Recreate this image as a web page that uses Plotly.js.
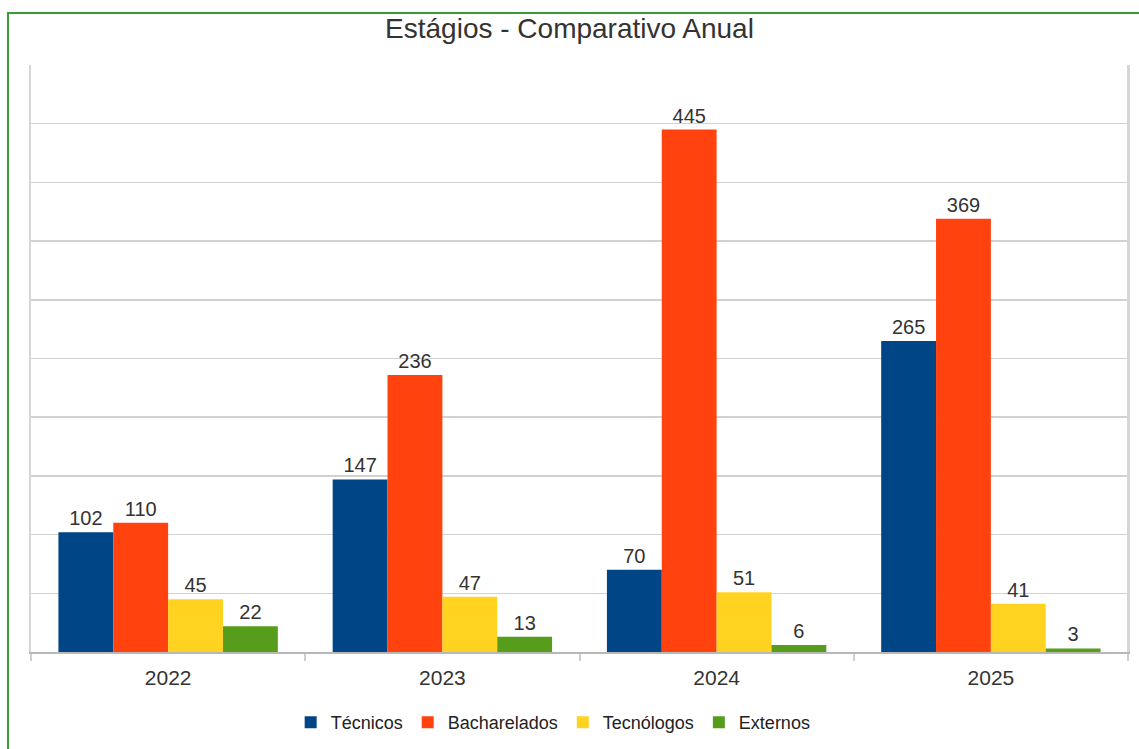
<!DOCTYPE html>
<html>
<head>
<meta charset="utf-8">
<script src="https://cdn.plot.ly/plotly-3.0.1.min.js"></script>
<style>
  html, body { margin: 0; padding: 0; width: 1139px; height: 749px; overflow: hidden; background: #fff; }
  #chart { position: absolute; left: 0; top: 0; width: 1139px; height: 749px; }
  #frame { position: absolute; left: 7px; top: 12px; width: 1200px; height: 800px; border: 2px solid #3c9b32; pointer-events: none; }
</style>
</head>
<body>
<div id="chart"></div>
<div id="frame"></div>
<script>
const years = ['2022', '2023', '2024', '2025'];
const tecnicos = [102, 147, 70, 265];
const bacharelados = [110, 236, 445, 369];
const tecnologos = [45, 47, 51, 41];
const externos = [22, 13, 6, 3];

const seriesNames = ['Técnicos', 'Bacharelados', 'Tecnólogos', 'Externos'];
const seriesValues = [tecnicos, bacharelados, tecnologos, externos];
const colors = ['#004586', '#ff420e', '#ffd320', '#579d1c'];

const FONT = '"Liberation Sans", Arial, sans-serif';

const data = seriesValues.map((vals, i) => ({
  type: 'bar',
  name: seriesNames[i],
  x: years,
  y: vals,
  text: vals.map(String),
  textposition: 'outside',
  textfont: { family: FONT, size: 20, color: '#333333' },
  cliponaxis: false,
  marker: { color: colors[i], line: { width: 0 } },
  hoverinfo: 'x+y+name'
}));

const layout = {
  width: 1139,
  height: 749,
  margin: { l: 31, r: 11, t: 65, b: 97, pad: 0, autoexpand: false },
  paper_bgcolor: '#ffffff',
  plot_bgcolor: '#ffffff',
  font: { family: FONT, color: '#333333' },
  title: {
    text: 'Estágios - Comparativo Anual',
    font: { family: FONT, size: 28, color: '#333333' },
    x: 0.5, xanchor: 'center',
    y: 1 - 28 / 749, yanchor: 'middle', yref: 'container'
  },
  barmode: 'group',
  bargap: 0.2,
  bargroupgap: 0,
  xaxis: {
    type: 'category',
    automargin: false,
    showgrid: false,
    showline: true,
    linecolor: '#b8b8b8',
    linewidth: 2,
    mirror: false,
    ticks: 'outside',
    tickson: 'boundaries',
    ticklen: 7,
    tickcolor: '#cfcfcf',
    tickwidth: 2,
    ticklabelstandoff: 6,
    tickfont: { family: FONT, size: 21, color: '#333333' },
    zeroline: false
  },
  yaxis: {
    range: [0, 500],
    dtick: 50,
    automargin: false,
    showticklabels: false,
    showgrid: true,
    gridcolor: '#d2d2d2',
    gridwidth: 1.5,
    showline: true,
    linecolor: '#d6d6d6',
    linewidth: 2,
    mirror: true,
    ticks: '',
    zeroline: false
  },
  showlegend: true,
  legend: {
    orientation: 'h',
    x: 0.476,
    xanchor: 'center',
    y: -0.12,
    yanchor: 'middle',
    font: { family: FONT, size: 18, color: '#222222' },
    traceorder: 'normal',
    itemwidth: 30,
    bgcolor: 'rgba(0,0,0,0)'
  },
  shapes: [{
    type: 'line', xref: 'paper', yref: 'paper',
    x0: 1, x1: 1, y0: 0, y1: 1,
    line: { color: '#d6d6d6', width: 2 }
  }]
};

Plotly.newPlot('chart', data, layout, { displayModeBar: false, staticPlot: true });
</script>
</body>
</html>
